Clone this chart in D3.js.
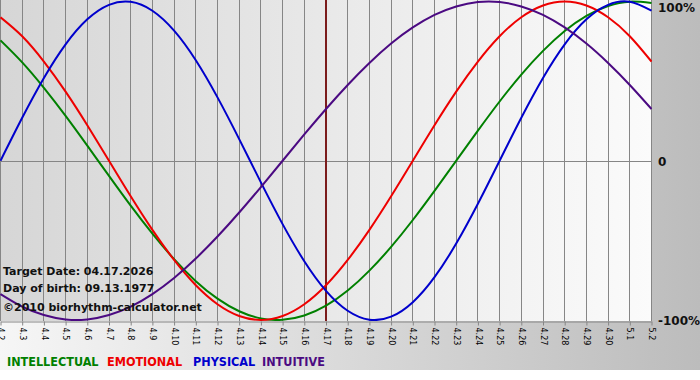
<!DOCTYPE html>
<html>
<head>
<meta charset="utf-8">
<script src="https://cdn.jsdelivr.net/npm/d3@7"></script>
<style>
html,body{margin:0;padding:0;background:#fff;}
svg{display:block;}
</style>
</head>
<body>
<svg id="chart" width="700" height="380"></svg>
<script>
const days = ["4.2","4.3","4.4","4.5","4.6","4.7","4.8","4.9","4.10","4.11","4.12","4.13","4.14","4.15","4.16","4.17","4.18","4.19","4.20","4.21","4.22","4.23","4.24","4.25","4.26","4.27","4.28","4.29","4.30","5.1","5.2"];
const intellectual = [0.756,0.618,0.458,0.282,0.095,-0.095,-0.282,-0.458,-0.618,-0.756,-0.866,-0.945,-0.990,-0.999,-0.972,-0.910,-0.815,-0.690,-0.541,-0.372,-0.189,0,0.189,0.372,0.541,0.690,0.815,0.910,0.972,0.999,0.990];
const emotional = [0.901,0.782,0.623,0.434,0.223,0,-0.223,-0.434,-0.623,-0.782,-0.901,-0.975,-1,-0.975,-0.901,-0.782,-0.623,-0.434,-0.223,0,0.223,0.434,0.623,0.782,0.901,0.975,1,0.975,0.901,0.782,0.623];
const physical = [0,0.270,0.520,0.731,0.888,0.979,0.998,0.942,0.817,0.631,0.398,0.136,-0.136,-0.398,-0.631,-0.817,-0.942,-0.998,-0.979,-0.888,-0.731,-0.520,-0.270,0,0.270,0.520,0.731,0.888,0.979,0.998,0.942];
const intuitive = [-0.837,-0.916,-0.969,-0.997,-0.997,-0.969,-0.916,-0.837,-0.736,-0.614,-0.476,-0.325,-0.165,0,0.165,0.325,0.476,0.614,0.736,0.837,0.916,0.969,0.997,0.997,0.969,0.916,0.837,0.736,0.614,0.476,0.325];
const seriesNames = ["INTELLECTUAL","EMOTIONAL","PHYSICAL","INTUITIVE"];
const seriesColors = ["#008000","#ee0000","#0000cc","#4b0a82"];
const seriesValues = [intellectual, emotional, physical, intuitive];
const targetDay = "4.17";
const yTickValues = [1, 0, -1];
const yTickLabels = ["100%", "0", "-100%"];
const infoLines = ["Target Date: 04.17.2026", "Day of birth: 09.13.1977", "\u00A92010 biorhythm-calculator.net"];

const svg = d3.select("#chart");
const defs = svg.append("defs");
const bgGrad = defs.append("linearGradient").attr("id","bgGrad").attr("x1","0").attr("x2","1").attr("y1","0").attr("y2","0");
bgGrad.append("stop").attr("offset","0").attr("stop-color","#f6f6f6");
bgGrad.append("stop").attr("offset","1").attr("stop-color","#bcbcbc");
const plotGrad = defs.append("linearGradient").attr("id","plotGrad").attr("x1","0").attr("x2","1").attr("y1","0").attr("y2","0");
plotGrad.append("stop").attr("offset","0").attr("stop-color","#d6d6d6");
plotGrad.append("stop").attr("offset","1").attr("stop-color","#fbfbfb");
defs.append("clipPath").attr("id","plotClip").append("rect").attr("x",0).attr("y",0).attr("width",652).attr("height",321);

svg.append("rect").attr("x",0).attr("y",0).attr("width",700).attr("height",370).attr("fill","url(#bgGrad)");

const x = d3.scalePoint().domain(days).range([0.5, 651.5]);
const y = d3.scaleLinear().domain([-1, 1]).range([320, 1.5]);

svg.append("rect").attr("x",0).attr("y",0).attr("width",651).attr("height",321).attr("fill","url(#plotGrad)");

// vertical grid
svg.append("g").selectAll("line").data(days).join("line")
  .attr("x1", d => Math.round(x(d)-0.5)+0.5).attr("x2", d => Math.round(x(d)-0.5)+0.5)
  .attr("y1", 0).attr("y2", 321)
  .attr("stroke","#868686").attr("stroke-width",1);
// zero line
svg.append("line").attr("x1",0).attr("x2",651).attr("y1",Math.round(y(0))+0.5).attr("y2",Math.round(y(0))+0.5)
  .attr("stroke","#868686").attr("stroke-width",1);

// target line
svg.append("line").attr("x1",x(targetDay)).attr("x2",x(targetDay)).attr("y1",0).attr("y2",321)
  .attr("stroke","#7b1c1c").attr("stroke-width",2);

// curves
const line = d3.line().x((d,i) => x(days[i])).y(d => y(d)).curve(d3.curveNatural);
const curves = svg.append("g").attr("clip-path","url(#plotClip)");
seriesValues.forEach((vals, k) => {
  curves.append("path").attr("d", line(vals)).attr("fill","none")
    .attr("stroke", seriesColors[k]).attr("stroke-width", 2);
});

// x axis
const xAxis = d3.axisBottom(x).tickSize(4).tickSizeOuter(0);
const gx = svg.append("g").attr("transform","translate(0,321.5)").call(xAxis);
gx.select(".domain").attr("stroke","#868686");
gx.selectAll(".tick line").attr("stroke","#868686");
gx.selectAll(".tick text")
  .attr("font-family","'DejaVu Sans', Verdana, sans-serif").attr("font-size","8px").attr("fill","#000")
  .attr("text-anchor","start").attr("transform","rotate(90)")
  .attr("x", 6).attr("y", 0).attr("dy","0.35em");

// y labels
const yLabelOffsets = [10, 5, 5];
svg.append("g").selectAll("text").data(yTickValues).join("text")
  .attr("x", 658).attr("y", (d,i) => y(d) + yLabelOffsets[i])
  .attr("font-family","'DejaVu Sans', Verdana, sans-serif").attr("font-weight","bold").attr("font-size","12px")
  .attr("fill","#111")
  .text((d,i) => yTickLabels[i]);

// info text
const infoY = [275, 292, 311];
svg.append("g").selectAll("text").data(infoLines).join("text")
  .attr("x", 3).attr("y", (d,i) => infoY[i])
  .attr("font-family","'DejaVu Sans', Verdana, sans-serif").attr("font-weight","bold").attr("font-size","11px")
  .attr("fill","#111").text(d => d);

// legend
const legendX = [7, 107, 193, 262];
svg.append("g").selectAll("text").data(seriesNames).join("text")
  .attr("x", (d,i) => legendX[i]).attr("y", 366)
  .attr("font-family","'DejaVu Sans Condensed', 'DejaVu Sans', sans-serif").attr("font-weight","bold").attr("font-size","12.5px")
  .attr("fill", (d,i) => seriesColors[i]).text(d => d);
</script>
</body>
</html>
